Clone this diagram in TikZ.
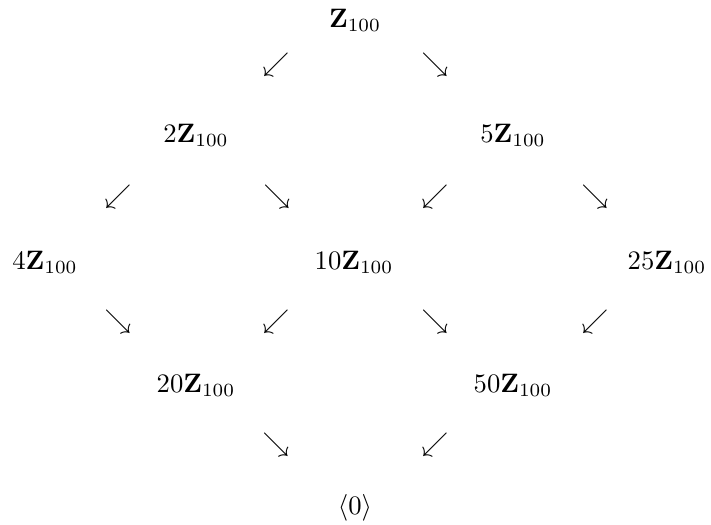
\documentclass[tikz,border=0pt]{standalone}
\usepackage{amsmath,amssymb}
\usepackage{tikz}
\usetikzlibrary{positioning}
\tikzset{
 grp/.style={inner sep=0pt,font=\normalsize},
 mapglyph/.style={inner sep=0pt}
}

\begin{document}
\begin{tikzpicture}[x=0.375pt,y=-0.375pt]
\useasboundingbox (0,0) rectangle (711,524);
\node[grp] (z1)   at (355,20)  {$\mathbf{Z}_{100}$};
\node[grp] (z2)   at (196,135) {$2\mathbf{Z}_{100}$};
\node[grp] (z5)   at (513,135) {$5\mathbf{Z}_{100}$};
\node[grp] (z4)   at (45,262)  {$4\mathbf{Z}_{100}$};
\node[grp] (z10)  at (354,262) {$10\mathbf{Z}_{100}$};
\node[grp] (z25)  at (667,262) {$25\mathbf{Z}_{100}$};
\node[grp] (z20)  at (196,385) {$20\mathbf{Z}_{100}$};
\node[grp] (z50)  at (513,385) {$50\mathbf{Z}_{100}$};
\node[grp] (zero) at (355,508) {$\langle 0\rangle$};
% inclusion arrows, set as in an array
\foreach \n/\x/\y/\g in {a1/276/65/\swarrow, a2/435/65/\searrow,
  b1/118/197/\swarrow, b2/277/197/\searrow, b3/435/197/\swarrow, b4/595/197/\searrow,
  c1/118/322/\searrow, c2/276/322/\swarrow, c3/435/322/\searrow, c4/595/322/\swarrow,
  d1/276/445/\searrow, d2/435/445/\swarrow}
  \node[mapglyph] (\n) at (\x,\y) {$\g$};
\end{tikzpicture}
\end{document}
